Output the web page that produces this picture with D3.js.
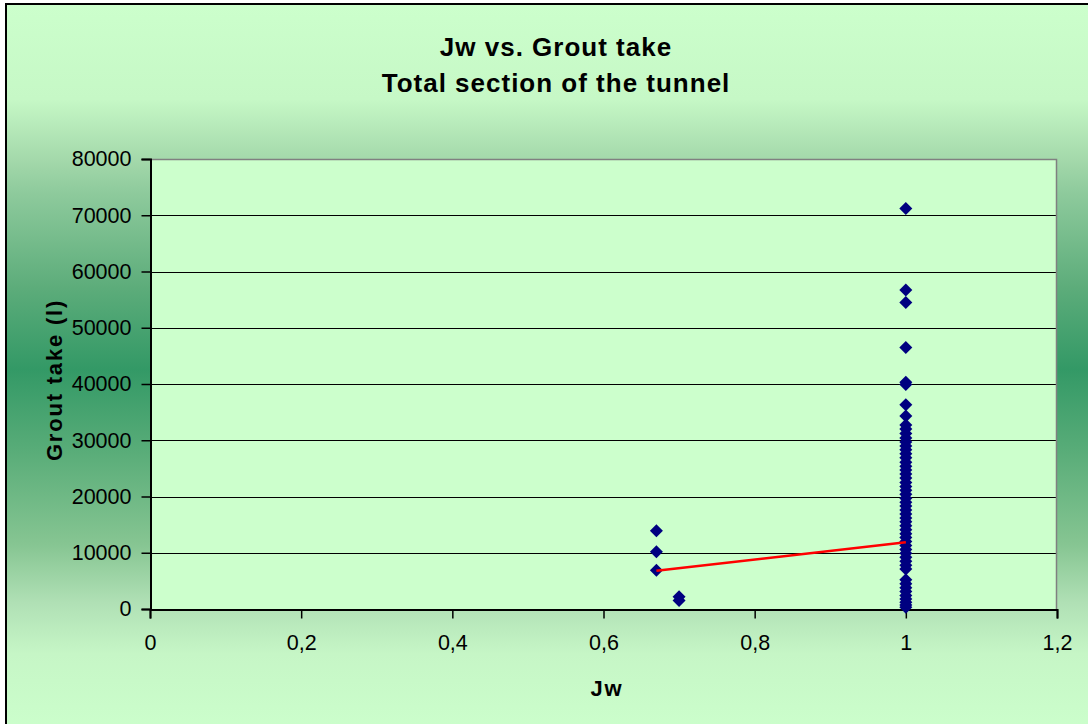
<!DOCTYPE html>
<html>
<head>
<meta charset="utf-8">
<script src="https://cdn.jsdelivr.net/npm/d3@7"></script>
<style>
  html, body { margin: 0; padding: 0; background: #ffffff; }
  svg { display: block; }
  text { font-family: "Liberation Sans", Arial, sans-serif; }
</style>
</head>
<body>
<svg id="chart" width="1088" height="724"></svg>
<script>
// Jw values and grout take (litres) per grouting section
const jwLow = [0.67, 0.67, 0.67, 0.7, 0.7];
const groutLow = [13900, 10200, 6900, 2200, 1500];

const groutAtOne = [
  71200, 56700, 54500, 46500, 40300, 39900, 36300, 34300, 32700, 32000,
  31200, 30400, 29700, 29000, 28300, 27600, 26900, 26100, 25400, 24700,
  24000, 23300, 22500, 21800, 21100, 20400, 19700, 19000, 18300, 17600,
  16900, 16200, 15500, 14800, 14100, 13400, 12700, 12000, 11300, 10600,
  9900, 9200, 8500, 7800, 7100, 5200, 4500, 3800, 3100, 2400,
  1800, 1200, 700, 300
];

// Linear trend line end points
const trendJw = [0.67, 1.0];
const trendGrout = [6800, 11850];

const xTicks = [0, 0.2, 0.4, 0.6, 0.8, 1.0, 1.2];
const yTicks = [0, 10000, 20000, 30000, 40000, 50000, 60000, 70000, 80000];

const titleLines = ["Jw vs. Grout take", "Total section of the tunnel"];
const xTitle = "Jw";
const yTitle = "Grout take (l)";

const points = jwLow.map((x, i) => ({ x, y: groutLow[i] }))
  .concat(groutAtOne.map(y => ({ x: 1.0, y })));

const svg = d3.select("#chart");
const W = 1088, H = 724;
const plot = { left: 150, right: 1057, top: 159, bottom: 609 };

// Chart-area background: light green at the edges, deep green in the middle
const defs = svg.append("defs");
const grad = defs.append("linearGradient")
  .attr("id", "bg").attr("x1", 0).attr("y1", 0).attr("x2", 0).attr("y2", 1);
[
  [0, "#ccffcc"], [0.13, "#c6f8c6"], [0.215, "#a3d8aa"], [0.256, "#8fcb9d"],
  [0.39, "#5cac7a"], [0.5, "#339966"], [0.61, "#58ac78"], [0.74, "#86c592"],
  [0.82, "#b0e0b5"], [0.89, "#c6f6c6"], [1, "#ccffcc"]
].forEach(([o, c]) => grad.append("stop").attr("offset", o).attr("stop-color", c));

svg.append("rect")
  .attr("x", 6).attr("y", 4).attr("width", W + 10).attr("height", H + 6)
  .attr("fill", "url(#bg)").attr("stroke", "#000").attr("stroke-width", 2);

const x = d3.scaleLinear().domain([0, 1.2]).range([plot.left, plot.right]);
const y = d3.scaleLinear().domain([0, 80000]).range([plot.bottom, plot.top]);

// Plot area
svg.append("rect")
  .attr("x", plot.left).attr("y", plot.top)
  .attr("width", plot.right - plot.left).attr("height", plot.bottom - plot.top)
  .attr("fill", "#ccffcc");

// Horizontal gridlines
svg.append("g").selectAll("line")
  .data(yTicks.filter(v => v > 0 && v < 80000))
  .join("line")
  .attr("x1", plot.left).attr("x2", plot.right)
  .attr("y1", d => Math.round(y(d)) + 0.5).attr("y2", d => Math.round(y(d)) + 0.5)
  .attr("stroke", "#000").attr("stroke-width", 1.2);

// Top and right plot border
svg.append("path")
  .attr("d", `M${plot.left},${plot.top + 0.5}H${plot.right - 0.5}V${plot.bottom}`)
  .attr("fill", "none").attr("stroke", "#808080").attr("stroke-width", 1.5);

const fmtX = d => d3.format("~g")(d).replace(".", ",");

const xAxis = svg.append("g")
  .attr("transform", `translate(0,${plot.bottom + 0.5})`)
  .call(d3.axisBottom(x).tickValues(xTicks).tickFormat(fmtX).tickSize(9).tickPadding(16));
const yAxis = svg.append("g")
  .attr("transform", `translate(${plot.left + 0.5},0)`)
  .call(d3.axisLeft(y).tickValues(yTicks).tickFormat(d3.format("d")).tickSize(9).tickPadding(10));

[xAxis, yAxis].forEach(g => {
  g.select(".domain").attr("stroke", "#000").attr("stroke-width", 2);
  g.selectAll(".tick line").attr("stroke", "#000").attr("stroke-width", 1.5);
  g.selectAll(".tick text")
    .attr("fill", "#000")
    .style("font-family", "'Liberation Sans', Arial, sans-serif")
    .style("font-size", "21.5px");
});

// Markers: navy diamonds
svg.append("g").selectAll("path")
  .data(points)
  .join("path")
  .attr("d", "M0,-6.5L6.5,0L0,6.5L-6.5,0Z")
  .attr("transform", d => `translate(${x(d.x)},${y(d.y)})`)
  .attr("fill", "#000080");

// Trend line, drawn above the markers
svg.append("path")
  .datum(trendJw.map((v, i) => [v, trendGrout[i]]))
  .attr("d", d3.line().x(d => x(d[0])).y(d => y(d[1])))
  .attr("fill", "none").attr("stroke", "#ff0000").attr("stroke-width", 2.5);

// Titles
svg.append("g").selectAll("text")
  .data(titleLines)
  .join("text")
  .attr("x", 556).attr("y", (d, i) => 56 + i * 36)
  .attr("text-anchor", "middle")
  .style("font-size", "26px").style("font-weight", "bold")
  .style("letter-spacing", "1px")
  .text(d => d);

svg.append("text")
  .attr("x", 607).attr("y", 696)
  .attr("text-anchor", "middle")
  .style("font-size", "22px").style("font-weight", "bold")
  .style("letter-spacing", "1.8px")
  .text(xTitle);

svg.append("text")
  .attr("transform", `translate(62,380) rotate(-90)`)
  .attr("text-anchor", "middle")
  .style("font-size", "22px").style("font-weight", "bold")
  .style("letter-spacing", "1.8px")
  .text(yTitle);
</script>
</body>
</html>
